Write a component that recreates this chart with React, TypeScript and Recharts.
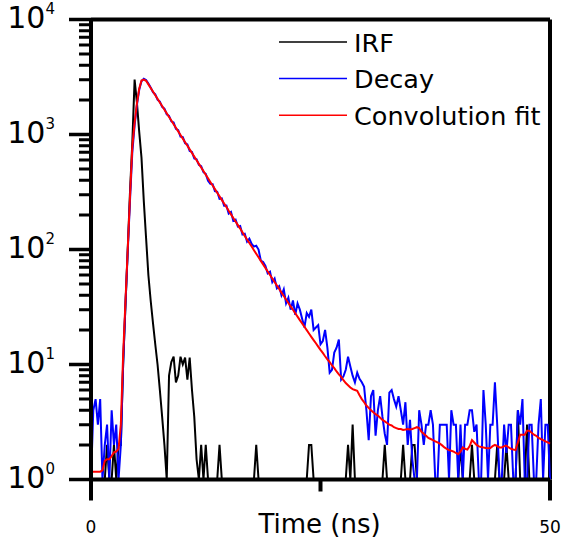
import { LineChart, Line, XAxis, YAxis, ReferenceLine, Legend } from "recharts"

const FONT = "'DejaVu Sans', Verdana, sans-serif"

// chart layout
const CHART_W = 563
const CHART_H = 544
const PLOT_TOP = 19.5
const PLOT_RIGHT = 13
const Y_AXIS_W = 91
const X_AXIS_H = 64.5

// sampling step of the time axis (ns)
const timeStep = 0.25

// counts, one value per 0.25 ns, t = 0 ... 50
const irf = [
  1, 1, 1, 1, 1, 1, 1, 2, 1, 1, 2, 1, 2, 2, 10, 32, 100, 320, 850, 3000,
  1900, 1060, 630, 265, 126, 60, 36, 23, 15, 10, 6, 3.5, 2, 1, 8, 10.5, 11.7, 7, 8, 11.7,
  10, 11.5, 7.4, 11.5, 6, 3.5, 1.5, 1, 2, 1, 2, 1, 1, 1, 1, 1, 2, 1, 1, 1,
  1, 1, 1, 1, 1, 1, 1, 1, 1, 1, 1, 1, 2, 1, 1, 1, 1, 1, 1, 1,
  1, 1, 1, 1, 1, 1, 1, 1, 1, 1, 1, 1, 1, 1, 1, 2, 2, 1, 1, 1,
  1, 1, 1, 1, 1, 1, 1, 1, 1, 1, 1, 1, 2, 1, 3, 1, 1, 1, 1, 1,
  1, 1, 1, 1, 1, 1, 1, 1, 2, 1, 1, 1, 1, 1, 1, 1, 2, 1, 1, 1,
  2, 2, 1, 1, 1, 1, 1, 1, 1, 1, 1, 1, 1, 1, 1, 1, 1, 1, 1, 1,
  1, 2, 1, 1, 1, 1, 2, 1, 1, 1, 1, 1, 1, 1, 1, 1, 1, 2, 1, 1,
  1, 2, 1, 1, 1, 1, 4, 1, 1, 1, 3, 1, 1, 1, 1, 1, 1, 1, 1, 1,
  1
]

const decay = [
  1, 4, 5, 3, 5, 1, 2, 3, 1, 4, 2, 3, 1, 2, 10, 33, 95, 270, 700, 1200,
  1800, 2450, 2900, 3050, 2980, 2780, 2560, 2330, 2230, 2010, 1930, 1740, 1680, 1500, 1450, 1300, 1270, 1120, 1090, 960,
  950, 840, 820, 720, 705, 620, 610, 545, 530, 470, 455, 395, 372, 370, 322, 318, 276, 278, 240, 241,
  205, 212, 178, 182, 158, 160, 135, 137, 117, 124, 112, 106, 108, 100, 80, 78, 72, 62, 64, 52,
  56, 46, 48, 40, 45, 34, 38, 30, 36, 27, 34, 30, 25, 21, 28, 26, 30, 20, 21, 22,
  15, 16, 20, 14, 8.5, 9, 12.7, 14, 16.5, 7.4, 7.9, 9, 11.7, 9.6, 8, 7, 8.5, 7.5, 7, 6.4,
  4, 2.2, 5.3, 6, 2.4, 4, 5.3, 3.5, 2.5, 2, 5.7, 6, 5, 4.3, 5.3, 4, 3, 4.7, 2, 3.3,
  1.5, 1, 1, 4, 3, 2, 3, 3, 4, 3, 1, 1, 3, 3, 3, 3, 1, 4, 3, 3,
  1, 3, 1, 3, 3, 4, 4, 2.6, 3, 1, 1, 6, 3, 1, 3, 3, 7, 3, 1, 1,
  3, 1.7, 3, 3, 1, 1, 4, 3, 5, 1, 1, 3, 3, 1, 1, 3, 5, 1, 3, 3,
  1
]

const fit = [
  1.17, 1.17, 1.17, 1.17, 1.17, 1.2, 1.45, 1.5, 1.5, 1.6, 1.72, 1.75, 1.85, 3, 12, 35, 100, 290, 780, 1260,
  1860, 2500, 2950, 3000, 2930, 2730, 2540, 2362, 2197, 2043, 1900, 1768, 1644, 1529, 1422, 1323, 1230, 1145, 1065, 990,
  921, 857, 797, 742, 690, 642, 597, 555, 517, 481, 447, 416, 387, 360, 335, 312, 290, 270, 251, 234,
  217, 202, 188, 175, 163, 152, 141, 131, 122, 114, 106, 98.6, 91.8, 85.5, 79.7, 74.2, 69.1, 64.4, 60.0, 55.9,
  52.1, 48.6, 45.3, 42.2, 39.4, 36.7, 34.3, 32.0, 29.9, 27.9, 26.1, 24.3, 22.8, 21.3, 19.9, 18.6, 17.4, 16.3, 15.3, 14.3,
  13.4, 12.6, 11.8, 11.1, 10.5, 9.8, 9.3, 8.7, 8.2, 7.8, 7.3, 6.9, 6.6, 6.3, 6.1, 6.0, 5.9, 5.4, 5.0, 4.7,
  4.4, 4.2, 4.0, 3.85, 3.7, 3.6, 3.45, 3.3, 3.2, 3.1, 3.0, 2.95, 2.85, 2.8, 2.75, 2.75, 2.7, 2.72, 2.75, 2.72,
  2.75, 2.8, 2.85, 2.8, 2.6, 2.5, 2.4, 2.3, 2.25, 2.2, 2.15, 2.1, 2.05, 1.98, 1.9, 1.85, 1.8, 1.78, 1.75, 1.7,
  1.66, 1.75, 1.9, 1.85, 1.82, 1.95, 2.2, 2.1, 2.0, 1.94, 1.92, 1.9, 1.88, 1.87, 1.88, 1.95, 2.0, 1.95, 1.9, 1.9,
  1.95, 1.97, 1.9, 1.85, 1.82, 1.8, 2.1, 2.45, 2.45, 2.45, 2.65, 2.65, 2.55, 2.45, 2.4, 2.3, 2.25, 2.2, 2.15, 2.1,
  2.05
]

const seriesNames = ["IRF", "Decay", "Convolution fit"]
const seriesColors = ["#000000", "#0000ff", "#ff0000"]

const xTicks = [0, 25, 50]
const xTitle = "Time (ns)"
const yMajor = [1, 10, 100, 1000, 10000]
const yMinorFactors = [2, 3, 4, 5, 6, 7, 8, 9]
const decades = Math.log10(yMajor[yMajor.length - 1] / yMajor[0])
// on a log axis every decade has the same length in pixels
const decadePx = (CHART_H - PLOT_TOP - X_AXIS_H) / decades

const data = decay.map((v, i) => ({
  t: i * timeStep,
  irf: irf[i],
  decay: v,
  fit: fit[i]
}))

// tick comb of the log y axis, drawn from the origin corner (x, y)
function yComb(x: number, y: number) {
  let major = ""
  let minor = ""
  for (let k = 0; k <= decades; k++) {
    const yk = y - k * decadePx
    major += `M${x - 22},${yk}H${x}`
    if (k < decades) {
      yMinorFactors.forEach(m => {
        const my = yk - decadePx * Math.log10(m)
        minor += `M${x - 12},${my}H${x}`
      })
    }
  }
  return (
    <g>
      <path d={major} stroke="#000000" strokeWidth={3.5} fill="none" />
      <path d={minor} stroke="#000000" strokeWidth={3} fill="none" />
    </g>
  )
}

function YTick(props: any) {
  const x = Number(props.x)
  const y = Number(props.y)
  const v = Number(props.payload.value)
  return (
    <text
      x={x - 36}
      y={y - 2}
      textAnchor="end"
      dominantBaseline="central"
      fontFamily={FONT}
      fontSize={30}
      fill="#000"
    >
      10
      <tspan dy={-9} fontSize={15}>{Math.round(Math.log10(v))}</tspan>
    </text>
  )
}

function XTick(props: any) {
  const x = Number(props.x)
  const y = Number(props.y)
  const v = Number(props.payload.value)
  const len = v === 25 ? 12 : 21
  return (
    <g>
      {v === 0 && yComb(x, y)}
      <path d={`M${x},${y}V${y + len}`} stroke="#000000" strokeWidth={4} fill="none" />
      {v === 25 ? (
        <text x={x - 1} y={y + 53.5} textAnchor="middle" fontFamily={FONT} fontSize={26} fill="#000">
          {xTitle}
        </text>
      ) : (
        <text x={x} y={y + 47} textAnchor="middle" dominantBaseline="central" fontFamily={FONT} fontSize={17} fill="#000">
          {v}
        </text>
      )}
    </g>
  )
}

function LegendBox() {
  return (
    <svg width={285} height={115}>
      {seriesNames.map((name, i) => {
        const y = 22 + i * 36.6
        return (
          <g key={name}>
            <line x1={0} x2={68} y1={y} y2={y} stroke={seriesColors[i]} strokeWidth={1.5} />
            <text x={75} y={y + 9.5} fontFamily={FONT} fontSize={25.5} fill="#000">{name}</text>
          </g>
        )
      })}
    </svg>
  )
}

export default function App() {
  return (
    <div style={{ position: "absolute", left: 0, top: 0 }}>
      <LineChart
        width={CHART_W}
        height={CHART_H}
        data={data}
        margin={{ top: PLOT_TOP, right: PLOT_RIGHT, bottom: 0, left: 0 }}
      >
        <XAxis
          dataKey="t"
          type="number"
          domain={[0, 50]}
          ticks={xTicks}
          interval={0}
          tick={(p: any) => <XTick {...p} />}
          tickLine={false}
          tickSize={0}
          tickMargin={0}
          height={X_AXIS_H}
          axisLine={{ stroke: "#000", strokeWidth: 4 }}
        />
        <YAxis
          type="number"
          scale="log"
          domain={[1, 10000]}
          allowDataOverflow
          ticks={yMajor}
          interval={0}
          tick={(p: any) => <YTick {...p} />}
          tickLine={false}
          tickSize={0}
          tickMargin={0}
          width={Y_AXIS_W}
          axisLine={{ stroke: "#000", strokeWidth: 4 }}
        />
        <ReferenceLine y={10000} stroke="#000" strokeWidth={4} />
        <ReferenceLine x={50} stroke="#000" strokeWidth={4} />
        <Legend
          layout="horizontal"
          verticalAlign="middle"
          align="center"
          content={() => <LegendBox />}
          wrapperStyle={{ position: "absolute", left: 279, top: 20, width: 285, height: 115 }}
        />
        <Line dataKey="irf" name={seriesNames[0]} stroke={seriesColors[0]} strokeWidth={2} dot={false} isAnimationActive={false} />
        <Line dataKey="decay" name={seriesNames[1]} stroke={seriesColors[1]} strokeWidth={2} dot={false} isAnimationActive={false} />
        <Line dataKey="fit" name={seriesNames[2]} stroke={seriesColors[2]} strokeWidth={2} dot={false} isAnimationActive={false} />
      </LineChart>
    </div>
  )
}
